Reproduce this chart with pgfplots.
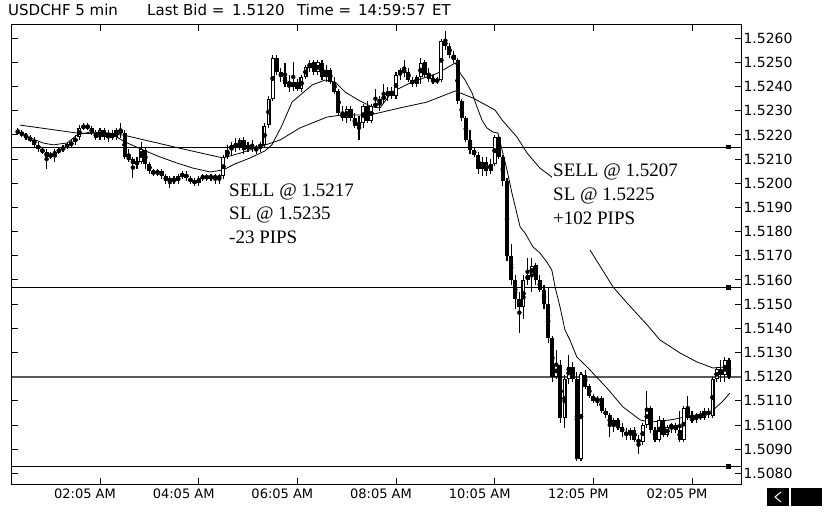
\documentclass[border=0pt]{standalone}
\usepackage{fontspec}
\setmainfont{DejaVu Sans}
\newfontfamily\annot{Liberation Serif}
\usepackage{pgfplots}
\usepackage{pgfplotstable}
\pgfplotsset{compat=1.18}

\pgfplotstableread{
i o h l c
5 1.5222 1.5223 1.5220 1.5221
6 1.5221 1.5222 1.5219 1.5220
7 1.5220 1.5221 1.5218 1.5219
8 1.5219 1.5220 1.5217 1.5218
9 1.5218 1.5219 1.5215 1.5216
10 1.5216 1.5217 1.5213 1.5214
11 1.5214 1.5215 1.5212 1.5213
12 1.5213 1.5214 1.5206 1.5211
13 1.5211 1.5213 1.5210 1.5212
14 1.5212 1.5214 1.5209 1.5213
15 1.5213 1.5215 1.5212 1.5214
16 1.5214 1.5216 1.5213 1.5215
17 1.5215 1.5217 1.5214 1.5216
18 1.5216 1.5218 1.5215 1.5217
19 1.5217 1.5220 1.5216 1.5219
20 1.5219 1.5224 1.5218 1.5223
21 1.5223 1.5225 1.5222 1.5224
22 1.5224 1.5225 1.5222 1.5223
23 1.5223 1.5224 1.5220 1.5221
24 1.5221 1.5222 1.5218 1.5219
25 1.5219 1.5223 1.5218 1.5222
26 1.5222 1.5223 1.5218 1.5219
27 1.5219 1.5222 1.5217 1.5221
28 1.5221 1.5222 1.5218 1.5219
29 1.5219 1.5223 1.5218 1.5222
30 1.5222 1.5225 1.5219 1.5221
31 1.5221 1.5222 1.5210 1.5211
32 1.5211 1.5214 1.5209 1.5210
33 1.5210 1.5211 1.5202 1.5208
34 1.5208 1.5211 1.5206 1.5209
35 1.5209 1.5217 1.5208 1.5214
36 1.5214 1.5215 1.5206 1.5208
37 1.5208 1.5209 1.5204 1.5205
38 1.5205 1.5206 1.5203 1.5204
39 1.5204 1.5206 1.5203 1.5205
40 1.5205 1.5206 1.5202 1.5203
41 1.5203 1.5204 1.5200 1.5201
42 1.5201 1.5203 1.5198 1.5202
43 1.5202 1.5203 1.5200 1.5201
44 1.5201 1.5204 1.5200 1.5203
45 1.5203 1.5205 1.5202 1.5204
46 1.5204 1.5205 1.5201 1.5202
47 1.5202 1.5203 1.5200 1.5201
48 1.5201 1.5202 1.5199 1.5200
49 1.5200 1.5203 1.5199 1.5202
50 1.5202 1.5204 1.5201 1.5203
51 1.5203 1.5204 1.5201 1.5202
52 1.5202 1.5204 1.5201 1.5203
53 1.5203 1.5204 1.5200 1.5202
54 1.5202 1.5204 1.5200 1.5203
55 1.5203 1.5212 1.5202 1.5211
56 1.5211 1.5216 1.5210 1.5214
57 1.5214 1.5217 1.5212 1.5216
58 1.5216 1.5219 1.5213 1.5215
59 1.5215 1.5219 1.5214 1.5218
60 1.5218 1.5219 1.5212 1.5214
61 1.5214 1.5217 1.5213 1.5216
62 1.5216 1.5218 1.5213 1.5214
63 1.5214 1.5216 1.5212 1.5215
64 1.5215 1.5217 1.5213 1.5216
65 1.5216 1.5225 1.5215 1.5224
66 1.5224 1.5236 1.5223 1.5235
67 1.5235 1.5253 1.5234 1.5252
68 1.5252 1.5253 1.5245 1.5246
69 1.5246 1.5248 1.5242 1.5244
70 1.5244 1.5250 1.5240 1.5241
71 1.5241 1.5245 1.5238 1.5240
72 1.5240 1.5250 1.5238 1.5242
73 1.5242 1.5243 1.5238 1.5239
74 1.5239 1.5245 1.5238 1.5244
75 1.5244 1.5249 1.5243 1.5248
76 1.5248 1.5251 1.5246 1.5250
77 1.5250 1.5251 1.5245 1.5246
78 1.5246 1.5251 1.5245 1.5250
79 1.5250 1.5251 1.5243 1.5244
80 1.5244 1.5249 1.5242 1.5247
81 1.5247 1.5248 1.5241 1.5242
82 1.5242 1.5244 1.5237 1.5238
83 1.5238 1.5239 1.5228 1.5229
84 1.5229 1.5232 1.5226 1.5227
85 1.5227 1.5232 1.5225 1.5231
86 1.5231 1.5232 1.5226 1.5227
87 1.5227 1.5229 1.5223 1.5224
88 1.5224 1.5228 1.5218 1.5225
89 1.5225 1.5233 1.5223 1.5232
90 1.5232 1.5234 1.5225 1.5226
91 1.5226 1.5233 1.5225 1.5232
92 1.5232 1.5239 1.5231 1.5233
93 1.5233 1.5236 1.5230 1.5235
94 1.5235 1.5241 1.5233 1.5236
95 1.5236 1.5240 1.5234 1.5238
96 1.5238 1.5240 1.5235 1.5236
97 1.5236 1.5246 1.5235 1.5245
98 1.5245 1.5248 1.5243 1.5247
99 1.5247 1.5251 1.5244 1.5246
100 1.5246 1.5248 1.5242 1.5243
101 1.5243 1.5244 1.5240 1.5241
102 1.5241 1.5245 1.5240 1.5244
103 1.5244 1.5252 1.5241 1.5250
104 1.5250 1.5251 1.5244 1.5245
105 1.5245 1.5248 1.5242 1.5243
106 1.5243 1.5245 1.5241 1.5242
107 1.5242 1.5244 1.5241 1.5243
108 1.5243 1.5260 1.5242 1.5259
109 1.5259 1.5263 1.5255 1.5257
110 1.5257 1.5258 1.5252 1.5253
111 1.5253 1.5255 1.5250 1.5251
112 1.5251 1.5252 1.5233 1.5234
113 1.5234 1.5235 1.5226 1.5227
114 1.5227 1.5228 1.5217 1.5218
115 1.5218 1.5222 1.5212 1.5214
116 1.5214 1.5215 1.5211 1.5212
117 1.5212 1.5213 1.5204 1.5206
118 1.5206 1.5211 1.5203 1.5209
119 1.5209 1.5211 1.5203 1.5205
120 1.5205 1.5210 1.5204 1.5208
121 1.5208 1.5220 1.5207 1.5219
122 1.5219 1.5220 1.5210 1.5211
123 1.5211 1.5212 1.5199 1.5201
124 1.5201 1.5202 1.5168 1.5170
125 1.5170 1.5175 1.5158 1.5160
126 1.5160 1.5162 1.5148 1.5152
127 1.5152 1.5155 1.5138 1.5149
128 1.5149 1.5162 1.5144 1.5160
129 1.5160 1.5169 1.5158 1.5162
130 1.5162 1.5169 1.5155 1.5166
131 1.5166 1.5167 1.5158 1.5160
132 1.5160 1.5162 1.5155 1.5156
133 1.5156 1.5158 1.5148 1.5150
134 1.5150 1.5157 1.5134 1.5136
135 1.5136 1.5137 1.5118 1.5120
136 1.5120 1.5131 1.5119 1.5125
137 1.5125 1.5127 1.5101 1.5103
138 1.5103 1.5121 1.5099 1.5119
139 1.5119 1.5129 1.5117 1.5124
140 1.5124 1.5126 1.5118 1.5119
141 1.5119 1.5122 1.5085 1.5086
142 1.5086 1.5122 1.5085 1.5121
143 1.5121 1.5123 1.5115 1.5116
144 1.5116 1.5117 1.5111 1.5112
145 1.5112 1.5113 1.5109 1.5110
146 1.5110 1.5112 1.5108 1.5111
147 1.5111 1.5112 1.5105 1.5106
148 1.5106 1.5107 1.5103 1.5104
149 1.5104 1.5105 1.5095 1.5100
150 1.5100 1.5103 1.5097 1.5102
151 1.5102 1.5103 1.5098 1.5099
152 1.5099 1.5101 1.5095 1.5097
153 1.5097 1.5099 1.5094 1.5096
154 1.5096 1.5099 1.5094 1.5098
155 1.5098 1.5099 1.5093 1.5094
156 1.5094 1.5096 1.5088 1.5093
157 1.5093 1.5101 1.5092 1.5100
158 1.5100 1.5114 1.5099 1.5107
159 1.5107 1.5108 1.5097 1.5098
160 1.5098 1.5099 1.5093 1.5094
161 1.5094 1.5104 1.5093 1.5102
162 1.5102 1.5103 1.5095 1.5096
163 1.5096 1.5100 1.5095 1.5099
164 1.5099 1.5101 1.5097 1.5100
165 1.5100 1.5101 1.5097 1.5098
166 1.5098 1.5106 1.5093 1.5094
167 1.5094 1.5108 1.5093 1.5107
168 1.5107 1.5112 1.5102 1.5103
169 1.5103 1.5106 1.5101 1.5102
170 1.5102 1.5105 1.5101 1.5104
171 1.5104 1.5106 1.5102 1.5103
172 1.5103 1.5107 1.5102 1.5106
173 1.5106 1.5107 1.5103 1.5104
174 1.5104 1.5120 1.5103 1.5119
175 1.5119 1.5124 1.5118 1.5123
176 1.5123 1.5127 1.5118 1.5121
177 1.5121 1.5128 1.5118 1.5127
178 1.5127 1.5128 1.5119 1.5120
}\candles

\begin{document}
\begin{tikzpicture}[x=1pt,y=1pt]
\path[use as bounding box] (0,0) rectangle (827,517);
\begin{axis}[
  at={(12pt,33pt)}, anchor=south west,
  width=729pt, height=459pt, scale only axis,
  xmin=3.59, xmax=180.92, ymin=1.50756, ymax=1.52655,
  axis line style={black, line width=1pt},
  tick align=inside,
  major tick length=6pt,
  tick style={black, line width=1pt},
  xtick={25,49,73,97,121,145,169},
  xticklabels={02:05 AM,04:05 AM,06:05 AM,08:05 AM,10:05 AM,12:05 PM,02:05 PM},
  xtick pos=both, xticklabel pos=bottom,
  ytick={1.5080,1.5090,1.5100,1.5110,1.5120,1.5130,1.5140,1.5150,1.5160,1.5170,1.5180,1.5190,1.5200,1.5210,1.5220,1.5230,1.5240,1.5250,1.5260},
  ytick pos=both, yticklabel pos=right,
  scaled y ticks=false,
  /pgf/number format/assume math mode=true,
  y tick label style={font=\fontsize{14}{14}\selectfont, anchor=west, xshift=-1pt,
    /pgf/number format/.cd, fixed, fixed zerofill, precision=4},
  x tick label style={font=\fontsize{13}{13}\selectfont, anchor=north, xshift=-15pt, yshift=-1pt},
]
% horizontal levels
\addplot[black, line width=1pt, forget plot] coordinates {(3.59,1.5215) (180.92,1.5215)};
\addplot[black, line width=1pt, forget plot] coordinates {(3.59,1.5157) (180.92,1.5157)};
\addplot[black!65, line width=2pt, forget plot] coordinates {(3.59,1.5120) (180.92,1.5120)};
\addplot[black, line width=1pt, forget plot] coordinates {(3.59,1.5083) (180.92,1.5083)};
\addplot[only marks, mark=square*, mark size=1.6pt, black, forget plot] coordinates {(177.8,1.5215) (177.8,1.5157) (177.8,1.5083)};
% moving averages
\addplot[black, line width=0.8pt, forget plot] coordinates {
(5.5,1.52212) (8,1.52188) (11.1,1.52167) (13.6,1.52159) (17,1.52167) (19.4,1.52200) (22.6,1.52212) (27.4,1.52208) (31.1,1.52171) (35.5,1.52138) (39.6,1.52109) (43.7,1.52084) (47.6,1.52063) (51.8,1.52047) (54.9,1.52055) (57.8,1.52080) (61.5,1.52105) (65.1,1.52134) (66.8,1.52159) (69.3,1.52241) (71.7,1.52336) (76.6,1.52407) (79.7,1.52427) (82.2,1.52419) (84.6,1.52378) (87.8,1.52345) (91.2,1.52316) (93.1,1.52312) (96,1.52378) (100.9,1.52419) (107.2,1.52456) (111.4,1.52498) (112.6,1.52456) (113.8,1.52427) (115.5,1.52374) (116.7,1.52316) (117.9,1.52262) (119.1,1.52229) (120.6,1.52212) (121.8,1.52208) (122.8,1.52138) (124,1.52055) (125.2,1.51960) (127.2,1.51819) (128.4,1.51794) (130.3,1.51737) (132,1.51712) (133.7,1.51674) (134.9,1.51641) (135.7,1.51571) (136.9,1.51488) (138.1,1.51393) (139.3,1.51352) (141,1.51281) (143.5,1.51240) (148.3,1.51153) (152.2,1.51075) (156.4,1.51021) (158.8,1.51012) (163.7,1.51021) (168.5,1.51037) (172.2,1.51050) (174.1,1.51062) (176.3,1.51095) (178.2,1.51132)};
\addplot[black, line width=0.8pt, forget plot] coordinates {
(5.5,1.52241) (19.4,1.52208) (30.6,1.52200) (37.9,1.52171) (45.2,1.52142) (54.9,1.52105) (59.1,1.52125) (68.8,1.52179) (73.6,1.52229) (80.2,1.52274) (83.9,1.52283) (90.7,1.52283) (98,1.52312) (104.5,1.52336) (111.4,1.52382) (115.7,1.52353) (121.1,1.52303) (122.8,1.52262) (126.4,1.52192) (128.9,1.52125) (132,1.52063) (134.9,1.52026) (144.2,1.51724) (149.8,1.51571) (153.2,1.51505) (158.1,1.51414) (161.2,1.51352) (166.1,1.51298) (170.2,1.51261) (174.1,1.51236) (177,1.51240)};
% wicks
\addplot[only marks, mark=none, forget plot,
  error bars/.cd, y dir=both, y explicit, error mark=none,
  error bar style={line width=1.1pt, black}]
  table[x=i, y expr={(\thisrow{h}+\thisrow{l})/2}, y error expr={(\thisrow{h}-\thisrow{l})/2}] {\candles};
% bodies
\addplot[only marks, mark=none, forget plot,
  error bars/.cd, y dir=both, y explicit, error mark=none,
  error bar style={line width=4pt, black}]
  table[x=i, y expr={(\thisrow{o}+\thisrow{c})/2}, y error expr={max(abs(\thisrow{c}-\thisrow{o})/2,0.00003)}] {\candles};
% hollow interior of rising candles
\addplot[only marks, mark=none, forget plot,
  error bars/.cd, y dir=both, y explicit, error mark=none,
  error bar style={line width=1.8pt, white}]
  table[x=i, y expr={(\thisrow{o}+\thisrow{c})/2}, y error expr={max((\thisrow{c}-\thisrow{o})/2-0.00004,0)}] {\candles};
\end{axis}
% annotations
\fill[white] (552,267) rectangle (684,359);
\node[anchor=base west, inner sep=0, font=\annot\fontsize{19}{19}\selectfont] at (229,320) {SELL @ 1.5217};
\node[anchor=base west, inner sep=0, font=\annot\fontsize{19}{19}\selectfont] at (229,297) {SL @ 1.5235};
\node[anchor=base west, inner sep=0, font=\annot\fontsize{19}{19}\selectfont] at (229,273) {-23 PIPS};
\node[anchor=base west, inner sep=0, font=\annot\fontsize{19}{19}\selectfont] at (553,340) {SELL @ 1.5207};
\node[anchor=base west, inner sep=0, font=\annot\fontsize{19}{19}\selectfont] at (553,316) {SL @ 1.5225};
\node[anchor=base west, inner sep=0, font=\annot\fontsize{19}{19}\selectfont] at (553,292) {+102 PIPS};
% title
\node[anchor=base west, inner sep=0, font=\fontsize{15}{15}\selectfont] at (8,501) {USDCHF 5 min};
\node[anchor=base west, inner sep=0, font=\fontsize{15}{15}\selectfont] at (147,501) {Last Bid =};
\node[anchor=base west, inner sep=0, font=\fontsize{15}{15}\selectfont] at (232,501) {1.5120};
\node[anchor=base west, inner sep=0, font=\fontsize{15}{15}\selectfont] at (297,501) {Time =};
\node[anchor=base west, inner sep=0, font=\fontsize{15}{15}\selectfont] at (358,501) {14:59:57};
\node[anchor=base west, inner sep=0, font=\fontsize{15}{15}\selectfont] at (432,501) {ET};
% scroll widget
\fill[black] (767,11) rectangle (822,29);
\fill[white] (789,11) rectangle (791,29);
\draw[white, line width=1pt] (781,25) -- (775,20) -- (781,15);
\end{tikzpicture}
\end{document}
